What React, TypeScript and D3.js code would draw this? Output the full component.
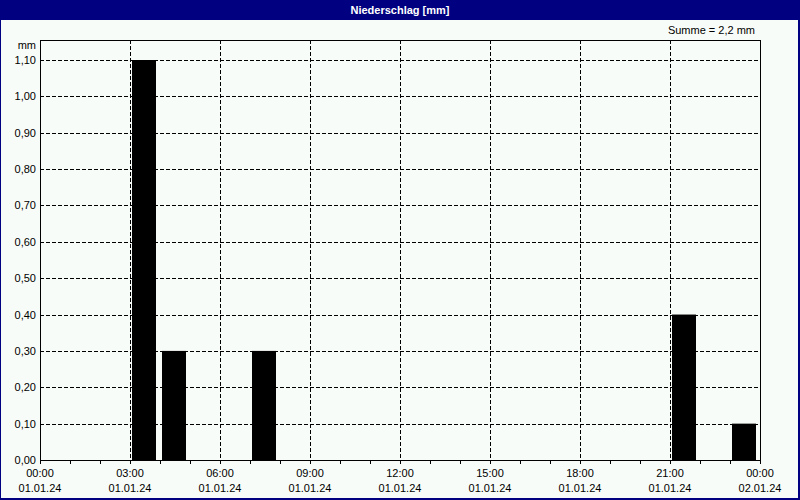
import React from "react";
import * as d3 from "d3";

const hours: number[] = [3, 4, 7, 21, 23];
const values: number[] = [1.1, 0.3, 0.3, 0.4, 0.1];
const yTicks: number[] = [0, 0.1, 0.2, 0.3, 0.4, 0.5, 0.6, 0.7, 0.8, 0.9, 1.0, 1.1];
const xTickHours: number[] = [0, 3, 6, 9, 12, 15, 18, 21, 24];
const title = "Niederschlag [mm]";
const unit = "mm";
const sumLabel = "Summe = 2,2 mm";

const W = 800, H = 500;
const L = 40, R = 760, T = 40, B = 460;
const font = "'Liberation Sans', Arial, sans-serif";
const bg = "#f8fcf8";

export default function App() {
  const start = new Date(2024, 0, 1, 0, 0);
  const end = new Date(2024, 0, 2, 0, 0);
  const x = d3.scaleTime().domain([start, end]).range([L, R]);
  const y = d3.scaleLinear().domain([0, 1.155]).range([B, T]);
  const hourDate = (h: number) => d3.timeHour.offset(start, h);
  const fmtY = (v: number) => d3.format(".2f")(v).replace(".", ",");
  const fmtT = d3.timeFormat("%H:%M");
  const fmtD = d3.timeFormat("%d.%m.%y");
  const minor = d3.range(0, 25).map(hourDate);

  return (
    <svg width={W} height={H} style={{ position: "fixed", left: 0, top: 0 }} fontFamily={font}>
      <rect x={0} y={0} width={W} height={H} fill="#000080" />
      <rect x={1} y={20} width={W - 3} height={H - 22} fill={bg} />
      <text x={400} y={14} fill="#fff" fontSize={11} fontWeight="bold" textAnchor="middle">{title}</text>
      <text x={755} y={34} fontSize={11} textAnchor="end" fill="#000">{sumLabel}</text>
      <text x={36} y={49} fontSize={11} textAnchor="end" fill="#000">{unit}</text>
      {/* horizontal grid */}
      {yTicks.filter(v => v > 0).map(v => (
        <line key={"hg" + v} x1={L} x2={R} y1={Math.round(y(v)) + 0.5} y2={Math.round(y(v)) + 0.5}
          stroke="#000" strokeDasharray="4,2" shapeRendering="crispEdges" />
      ))}
      {/* vertical grid */}
      {xTickHours.filter(h => h > 0 && h < 24).map(h => (
        <line key={"vg" + h} x1={Math.round(x(hourDate(h))) + 0.5} x2={Math.round(x(hourDate(h))) + 0.5}
          y1={T} y2={B} stroke="#000" strokeDasharray="4,2" shapeRendering="crispEdges" />
      ))}
      {/* bars */}
      {hours.map((h, i) => {
        const x0 = x(hourDate(h)) + 2;
        const x1 = x(hourDate(h + 1)) - 4;
        return <rect key={"b" + i} x={x0} y={y(values[i])} width={x1 - x0} height={B - y(values[i])} fill="#000" />;
      })}
      {/* frame */}
      <rect x={L + 0.5} y={T + 0.5} width={R - L} height={B - T} fill="none" stroke="#000" shapeRendering="crispEdges" />
      {/* x ticks */}
      {minor.map((d, i) => (
        <line key={"t" + i} x1={Math.round(x(d)) + 0.5} x2={Math.round(x(d)) + 0.5} y1={B} y2={B + 4}
          stroke="#000" shapeRendering="crispEdges" />
      ))}
      {/* y labels */}
      {yTicks.map(v => (
        <text key={"yl" + v} x={36} y={y(v) + 4} fontSize={11} textAnchor="end" fill="#000">{fmtY(v)}</text>
      ))}
      {/* x labels */}
      {xTickHours.map(h => (
        <g key={"xl" + h}>
          <text x={x(hourDate(h))} y={477} fontSize={11} textAnchor="middle" fill="#000">{fmtT(hourDate(h))}</text>
          <text x={x(hourDate(h))} y={492} fontSize={11} textAnchor="middle" fill="#000">{fmtD(hourDate(h))}</text>
        </g>
      ))}
    </svg>
  );
}
